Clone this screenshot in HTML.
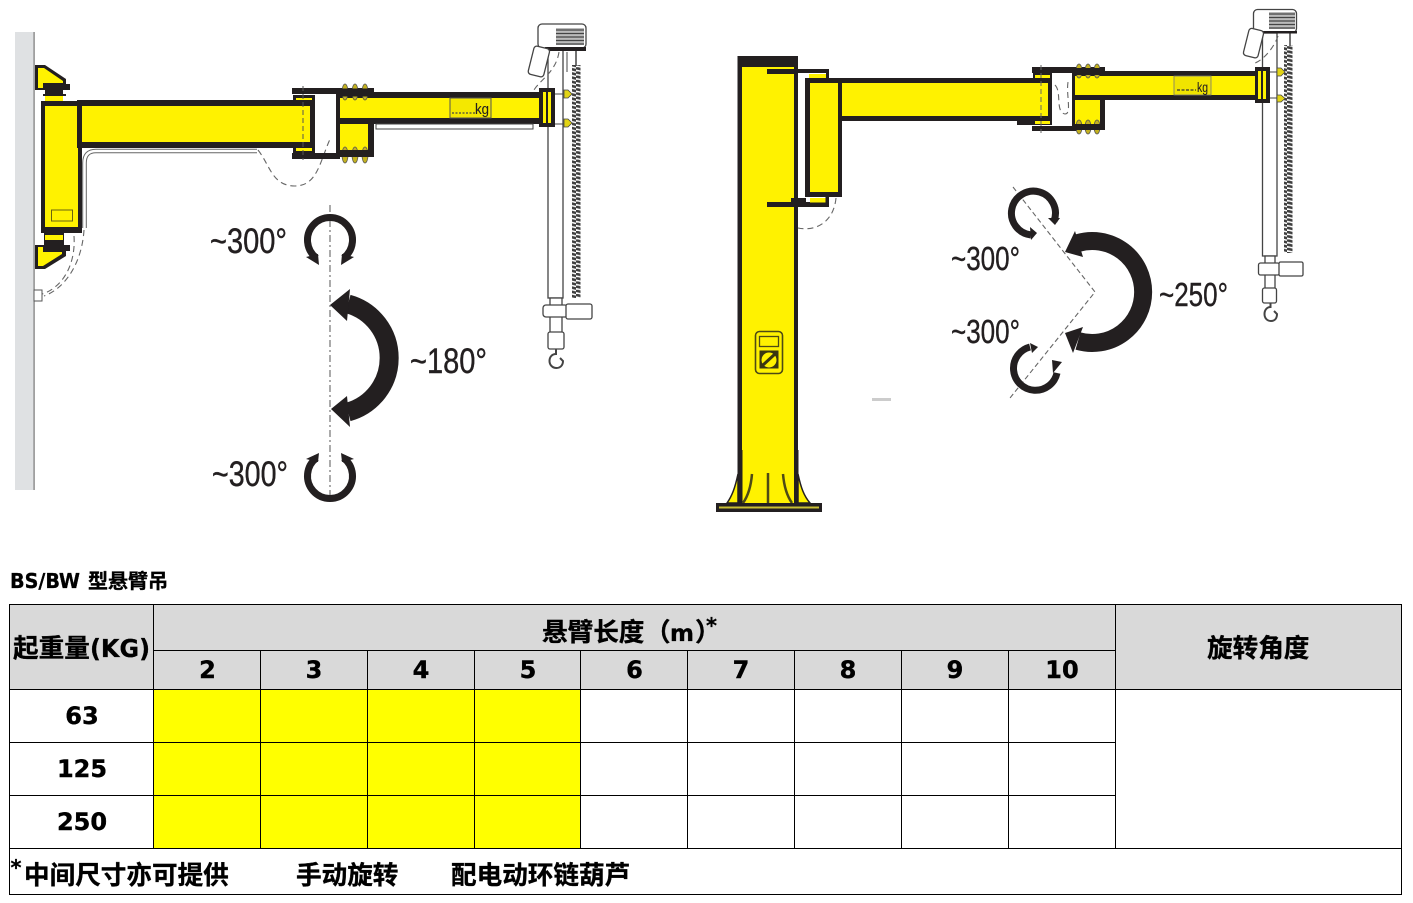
<!DOCTYPE html>
<html><head><meta charset="utf-8"><style>
html,body{margin:0;padding:0;background:#fff}
svg{display:block}
.a{font-family:"Liberation Sans",sans-serif;fill:#231f20;stroke:#231f20;stroke-width:.4}
.c{font-family:"DejaVu Sans","Noto Sans CJK SC",sans-serif;font-weight:bold;fill:#000;stroke:#000;stroke-width:.3}
.z{font-family:"Liberation Sans","Noto Sans CJK SC",sans-serif;font-weight:bold;fill:#000;font-size:25.6px;stroke:#000;stroke-width:.35}
.d{font-family:"DejaVu Sans",sans-serif;font-weight:bold;fill:#000;font-size:24px;text-anchor:middle;stroke:#000;stroke-width:.4}
.thin{fill:#fff;stroke:#444;stroke-width:1.3}
.dash{fill:none;stroke:#666;stroke-width:1.1;stroke-dasharray:6 4}
.bolt{fill:#c4b21e;stroke:#555;stroke-width:.8}
</style></head><body>
<svg width="1413" height="903" viewBox="0 0 1413 903" xmlns="http://www.w3.org/2000/svg">
<defs>
<pattern id="ch" x="0" y="0" width="9" height="4.2" patternUnits="userSpaceOnUse">
<path d="M-1 .6L10 3.2" stroke="#3f3f3f" stroke-width="2.6" fill="none"/>
</pattern>
</defs>
<rect width="1413" height="903" fill="#fff"/>

<!-- LEFT CRANE -->
<rect x="15" y="32" width="19" height="458" fill="#dfe1e3"/>
<rect x="33.500" y="32" width="1.200" height="458" fill="#777"/>
<!-- top bracket -->
<path d="M35 65H45L66 79V84H70V90H63V95H45V90H35Z" fill="#231f20"/>
<path d="M38 68H44L63 81V83H43V88H38Z" fill="#fff200"/>
<rect x="45" y="96" width="18" height="5" fill="#fff200"/>
<rect x="43" y="94" width="23" height="2" fill="#231f20"/>
<!-- bottom bracket -->
<path d="M35 269H45L66 256V251H70V245H64V232H44V245H35Z" fill="#231f20"/>
<path d="M38 266H43L62 254V252H43V247H38Z" fill="#fff200"/>
<rect x="45" y="235" width="18" height="5" fill="#fff200"/>
<!-- wall column -->
<rect x="41" y="101" width="41" height="132" fill="#231f20"/>
<rect x="45" y="106" width="33" height="121" fill="#fff200"/>
<rect x="51.500" y="210" width="21" height="11" fill="none" stroke="#6a6410" stroke-width="1"/>
<!-- beam 1 -->
<rect x="77" y="100" width="238" height="48" fill="#231f20"/>
<rect x="82" y="106" width="228" height="36" fill="#fff200"/>
<!-- pipe -->
<path d="M84.500 228V163Q84.500 151 96 151H257" fill="none" stroke="#666" stroke-width="4.600"/>
<path d="M84.500 228V163Q84.500 151 96 151H257" fill="none" stroke="#fff" stroke-width="2.600"/>
<path d="M258 150C270 165 272 186 295 186C318 186 320 160 331 137" class="dash"/>
<path d="M74 236C76 265 62 288 42 294" class="dash"/>
<path d="M84 230C82 262 66 288 44 296" class="dash"/>
<rect x="34" y="290" width="8" height="11" fill="#fff" stroke="#555" stroke-width="1"/>
<!-- collar 1 -->
<rect x="292" y="88" width="48" height="6" fill="#231f20"/>
<rect x="292" y="153" width="48" height="6" fill="#231f20"/>
<rect x="293" y="95" width="22" height="10" fill="#231f20"/>
<rect x="296" y="98" width="16" height="2" fill="#fff200"/>
<rect x="293" y="143" width="22" height="10" fill="#231f20"/>
<rect x="296" y="148" width="16" height="3" fill="#fff200"/>
<path d="M303 86V160" stroke="#555" stroke-width="1" stroke-dasharray="5 3" fill="none"/>
<!-- arm 1 -->
<rect x="336" y="92" width="204" height="32" fill="#231f20"/>
<rect x="336" y="88" width="38" height="69" fill="#231f20"/>
<rect x="340" y="98" width="200" height="20" fill="#fff200"/>
<rect x="340" y="124" width="28" height="26" fill="#fff200"/>
<rect x="376" y="124" width="157" height="5" fill="#fff" stroke="#444" stroke-width="1"/>
<g class="bolt"><ellipse cx="345" cy="92" rx="3" ry="8"/><ellipse cx="355" cy="92" rx="3" ry="8"/><ellipse cx="365" cy="92" rx="3" ry="8"/><ellipse cx="345" cy="155" rx="3" ry="8"/><ellipse cx="355" cy="155" rx="3" ry="8"/><ellipse cx="365" cy="155" rx="3" ry="8"/></g>
<rect x="336" y="88.500" width="36" height="8" fill="#231f20"/><rect x="336" y="150" width="38" height="7" fill="#231f20"/>
<rect x="450" y="98" width="41" height="20" fill="#f4e800" stroke="#555" stroke-width="1"/>
<path d="M452 113H475" stroke="#444" stroke-width="1.200" stroke-dasharray="2 1.500"/>
<text class="a" x="475" y="114" font-size="15" textLength="14" lengthAdjust="spacingAndGlyphs" style="stroke-width:.1">kg</text>
<!-- mast 1 -->
<rect x="548" y="50" width="15" height="248" class="thin"/>
<path d="M567 52V72" stroke="#444" fill="none"/>
<rect x="572" y="65" width="8.500" height="233" fill="url(#ch)"/>
<path d="M576 50V66" stroke="#444" stroke-width="1.500"/>
<path d="M559 52C556 72 540 80 534 90" class="dash"/>
<rect x="539" y="88" width="16" height="39" fill="#231f20"/>
<rect x="543" y="92" width="3" height="31" fill="#fff200"/><rect x="548" y="92" width="3" height="31" fill="#fff200"/>
<path d="M555 94H565M555 124H565" stroke="#444"/>
<path d="M564 90H568L572 94L568 98H564Z" fill="#e2d415" stroke="#444" stroke-width=".8"/>
<path d="M564 119H568L572 123L568 127H564Z" fill="#e2d415" stroke="#444" stroke-width=".8"/>
<rect x="538" y="24" width="48" height="24" rx="4" class="thin"/>
<rect x="556" y="28" width="28" height="17" fill="#bbb"/>
<path d="M556 30H584M556 33.500H584M556 37H584M556 40.500H584M556 44H584" stroke="#444" stroke-width="1.300"/>
<rect x="545" y="47" width="41" height="4" fill="#231f20"/>
<rect x="531" y="47" width="16" height="29" rx="3" transform="rotate(14 539 61)" class="thin"/>
<rect x="550" y="298" width="12" height="9" class="thin"/>
<rect x="550" y="316" width="12" height="17" class="thin"/>
<rect x="543" y="305" width="25" height="12" rx="3" class="thin"/>
<rect x="566" y="304" width="26" height="15" rx="2" class="thin"/>
<rect x="548" y="332" width="16" height="17" rx="2" class="thin"/>
<path d="M556 349V354C552 354 549.500 357 549.500 361C549.500 365 552.500 368 556.500 368C560.500 368 563 365 563 361L560 358" fill="none" stroke="#444" stroke-width="2"/>

<!-- RIGHT CRANE -->
<rect x="737.500" y="56" width="60.500" height="434" fill="#231f20"/>
<rect x="742" y="67" width="52" height="437" fill="#fff200"/>
<rect x="738" y="450" width="4.500" height="54" fill="#231f20"/>
<rect x="794" y="450" width="4.500" height="54" fill="#231f20"/>
<path d="M738 474C735 488 732 496 727 503H738Z" fill="#fff200" stroke="#231f20" stroke-width="1.500"/>
<path d="M798 474C801 488 804 496 810 503H798Z" fill="#fff200" stroke="#231f20" stroke-width="1.500"/>
<path d="M752 474C751 486 748 496 743 503M768 473V503M783 474C784 486 787 496 792 503" fill="none" stroke="#4d4a15" stroke-width="2.500"/>
<rect x="716" y="503" width="106" height="9" fill="#231f20"/>
<rect x="719" y="506.500" width="100" height="2" fill="#c9bf35"/>
<rect x="755.500" y="331.500" width="27" height="42" rx="4" fill="none" stroke="#4d4a15" stroke-width="1.600"/>
<rect x="759.500" y="336.500" width="19" height="10" fill="none" stroke="#4d4a15" stroke-width="1.300"/>
<rect x="759.500" y="350.500" width="19" height="18" fill="#3a3712"/>
<circle cx="769" cy="360" r="8" fill="#fff200" stroke="#3a3712"/>
<path d="M763 365L775 354" stroke="#3a3712" stroke-width="3"/>
<!-- joint -->
<rect x="767" y="69" width="28" height="5" fill="#231f20"/>
<rect x="798" y="69" width="31" height="4" fill="#231f20"/><rect x="826" y="69" width="3" height="10" fill="#231f20"/>
<rect x="809" y="74" width="17" height="4.500" fill="#fff200"/>
<rect x="767" y="202" width="62" height="5" fill="#231f20"/>
<rect x="791" y="198" width="15" height="5" fill="#231f20"/>
<rect x="810" y="198" width="16" height="4.500" fill="#fff200"/>
<rect x="825.500" y="197" width="3.500" height="9" fill="#231f20"/>
<rect x="805" y="78" width="37" height="119" fill="#231f20"/>
<rect x="810" y="83" width="28" height="109" fill="#fff200"/>
<path d="M836 198C834 220 818 232 798 228" class="dash"/>
<!-- beam -->
<rect x="838" y="78" width="214" height="43" fill="#231f20"/>
<rect x="842" y="83" width="206" height="33" fill="#fff200"/>
<!-- collar -->
<rect x="1032" y="67" width="45" height="6" fill="#231f20"/>
<rect x="1032" y="126" width="45" height="5" fill="#231f20"/>
<rect x="1033" y="72" width="19" height="9" fill="#231f20"/><rect x="1035" y="75" width="15" height="3" fill="#fff200"/>
<rect x="1017" y="119" width="35" height="6" fill="#231f20"/><rect x="1035" y="121" width="15" height="3" fill="#fff200"/>
<path d="M1041 65V133" stroke="#666" stroke-width="1" stroke-dasharray="5 3" fill="none"/>
<path d="M1055 85C1062 92 1055 112 1065 114C1072 114 1066 95 1068 82" class="dash"/>
<!-- arm -->
<rect x="1072" y="71" width="186" height="29" fill="#231f20"/>
<rect x="1072" y="67" width="33" height="63" fill="#231f20"/>
<rect x="1075" y="76" width="183" height="19" fill="#fff200"/>
<rect x="1075" y="100" width="25" height="24" fill="#fff200"/>
<g class="bolt"><ellipse cx="1079" cy="71" rx="3" ry="7"/><ellipse cx="1088" cy="71" rx="3" ry="7"/><ellipse cx="1097" cy="71" rx="3" ry="7"/><ellipse cx="1079" cy="127" rx="3" ry="7"/><ellipse cx="1088" cy="127" rx="3" ry="7"/><ellipse cx="1097" cy="127" rx="3" ry="7"/></g>
<rect x="1072" y="68" width="33" height="7" fill="#231f20"/><rect x="1072" y="124" width="33" height="6" fill="#231f20"/>
<rect x="1174" y="76" width="37" height="19" fill="#f0e400" stroke="#777" stroke-width=".8"/>
<path d="M1177 90H1196" stroke="#333" stroke-width="1.300" stroke-dasharray="3 1.500"/>
<text class="a" x="1197" y="92" font-size="14" textLength="11" lengthAdjust="spacingAndGlyphs" style="stroke-width:.1">kg</text>
<!-- mast 2 -->
<rect x="1262.500" y="33" width="14.500" height="223" class="thin"/>
<rect x="1284" y="45" width="8.500" height="208" fill="url(#ch)"/>
<path d="M1290 33V46" stroke="#444" stroke-width="1.500"/>
<path d="M1278 36C1274 48 1262 62 1252 64" class="dash"/>
<rect x="1255" y="67" width="15" height="36" fill="#231f20"/>
<rect x="1258" y="71" width="3" height="28" fill="#fff200"/><rect x="1263" y="71" width="3" height="28" fill="#fff200"/>
<path d="M1270 72H1278M1270 98H1278" stroke="#444"/>
<path d="M1277 68H1281L1285 72L1281 76H1277Z" fill="#e2d415" stroke="#444" stroke-width=".8"/>
<path d="M1277 95H1281L1285 98.500L1281 102H1277Z" fill="#e2d415" stroke="#444" stroke-width=".8"/>
<rect x="1253.500" y="9.500" width="43" height="23" rx="4" class="thin"/>
<rect x="1269" y="12" width="26" height="17" fill="#bbb"/>
<path d="M1269 14H1295M1269 17.500H1295M1269 21H1295M1269 24.500H1295M1269 28H1295" stroke="#444" stroke-width="1.300"/>
<rect x="1262" y="31" width="35" height="2.500" fill="#231f20"/>
<rect x="1246" y="29" width="15" height="28" rx="3" transform="rotate(14 1253 43)" class="thin"/>
<rect x="1265" y="256" width="10" height="8" class="thin"/>
<rect x="1265" y="274" width="10" height="15" class="thin"/>
<rect x="1258.500" y="263" width="21" height="12" rx="2" class="thin"/>
<rect x="1279" y="262" width="24" height="14" rx="1.500" class="thin"/>
<rect x="1262.500" y="288" width="14" height="15" rx="2" class="thin"/>
<path d="M1270.500 303V307C1267 307 1264.500 310 1264.500 314C1264.500 318 1267 321 1271 321C1275 321 1277 318 1277 314L1274 311" fill="none" stroke="#444" stroke-width="2"/>
<rect x="872" y="398" width="19" height="3" fill="#ccc"/>

<!-- LEFT ROTATION -->
<path d="M330 205V503" fill="none" stroke="#666" stroke-width="1.100" stroke-dasharray="7 3 2 3"/>
<path d="M316.500 258A22.500 22.500 0 1 1 343.500 258" fill="none" stroke="#231f20" stroke-width="7"/>
<path d="M306 257L318 254L319 265ZM354 257L342 254L341 265Z" fill="#231f20"/>
<path d="M316.500 458A22.500 22.500 0 1 0 343.500 458" fill="none" stroke="#231f20" stroke-width="7"/>
<path d="M306 459L318 462L319 453ZM354 459L342 462L341 453Z" fill="#231f20"/>
<path d="M348 304A56 56 0 0 1 348 412" fill="none" stroke="#231f20" stroke-width="19"/>
<path d="M330 305L350 289L347 321ZM331 409L350 427L347 396Z" fill="#231f20"/>
<text class="a" x="210" y="253" font-size="35" textLength="77" lengthAdjust="spacingAndGlyphs">~300°</text>
<text class="a" x="410" y="373" font-size="35" textLength="77" lengthAdjust="spacingAndGlyphs">~180°</text>
<text class="a" x="212" y="486" font-size="35" textLength="76" lengthAdjust="spacingAndGlyphs">~300°</text>

<!-- RIGHT ROTATION -->
<path d="M1013 187L1095 292L1010 398" fill="none" stroke="#666" stroke-width="1.100" stroke-dasharray="5 3"/>
<path d="M1054 221A22 22 0 1 0 1031 235" fill="none" stroke="#231f20" stroke-width="7"/>
<path d="M1060 218L1048 218L1055 225ZM1037 233L1030 227L1031 240Z" fill="#231f20"/>
<path d="M1030 347A22 22 0 1 0 1057 373" fill="none" stroke="#231f20" stroke-width="7"/>
<path d="M1038 347L1030 343L1032 353ZM1062 362L1052 360L1053 373Z" fill="#231f20"/>
<path d="M1078 243A51 51 0 1 1 1078 341" fill="none" stroke="#231f20" stroke-width="18"/>
<path d="M1065 252L1075 231L1083 257ZM1065 333L1083 327L1073 353Z" fill="#231f20"/>
<text class="a" x="951" y="270" font-size="33" textLength="69" lengthAdjust="spacingAndGlyphs">~300°</text>
<text class="a" x="951" y="343" font-size="33" textLength="69" lengthAdjust="spacingAndGlyphs">~300°</text>
<text class="a" x="1159" y="306" font-size="33" textLength="69" lengthAdjust="spacingAndGlyphs">~250°</text>

<!-- TABLE -->
<text class="c" x="10" y="588" font-size="20" textLength="70" lengthAdjust="spacingAndGlyphs">BS/BW</text>
<text class="z" x="88" y="588" style="font-size:20px">型悬臂吊</text>
<rect x="10" y="604" width="1391" height="85" fill="#d9d9d9"/>
<rect x="154" y="690" width="426" height="158" fill="#ffff00"/>
<path d="M9.500 604.500H1401.500V894.500H9.500ZM9.500 689.500H1401.500M9.500 848.500H1401.500M153.500 650.500H1115.500M9.500 742.500H1115.500M9.500 795.500H1115.500M153.500 604.500V848.500M1115.500 604.500V848.500M260.500 650.500V848.500M367.500 650.500V848.500M474.500 650.500V848.500M580.500 650.500V848.500M687.500 650.500V848.500M794.500 650.500V848.500M901.500 650.500V848.500M1008.500 650.500V848.500" fill="none" stroke="#000" stroke-width="1"/>
<text class="z" x="13" y="657">起重量</text>
<text class="c" x="90" y="657" font-size="25" textLength="60" lengthAdjust="spacingAndGlyphs">(KG)</text>
<text class="z" x="542" y="641">悬臂长度</text>
<text class="z" x="645" y="641">（</text>
<text class="c" x="670" y="641" font-size="23">m</text>
<text class="z" x="695" y="641">）</text>
<text class="c" x="706" y="633" font-size="21">*</text>
<text class="z" x="1207" y="657">旋转角度</text>
<text class="d" x="207.500" y="678">2</text><text class="d" x="314" y="678">3</text><text class="d" x="421" y="678">4</text><text class="d" x="528" y="678">5</text><text class="d" x="634.500" y="678">6</text><text class="d" x="741" y="678">7</text><text class="d" x="848" y="678">8</text><text class="d" x="955" y="678">9</text><text class="d" x="1062" y="678">10</text>
<text class="d" x="82" y="724">63</text><text class="d" x="82" y="777">125</text><text class="d" x="82" y="830">250</text>
<text class="c" x="10.500" y="875" font-size="21">*</text>
<text class="z" x="24" y="884">中间尺寸亦可提供</text>
<text class="z" x="296" y="884">手动旋转</text>
<text class="z" x="451" y="884">配电动环链葫芦</text>
</svg>
</body></html>
